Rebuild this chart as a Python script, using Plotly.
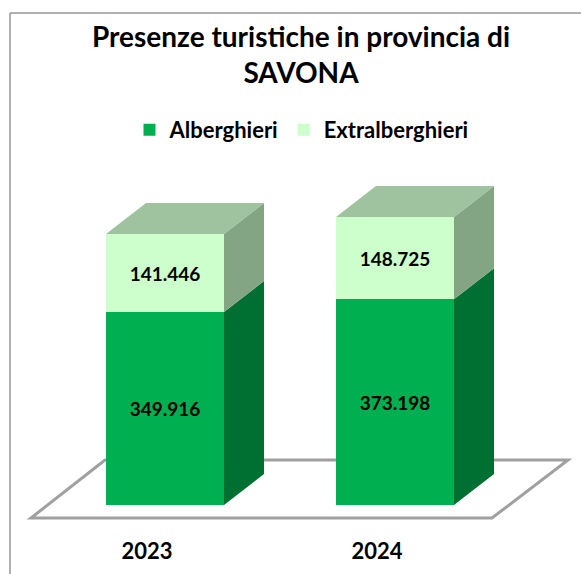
import plotly.graph_objects as go

years = ["2023", "2024"]
alberghieri = [349916, 373198]
extralberghieri = [141446, 148725]
labels_alb = ["349.916", "373.198"]
labels_ext = ["141.446", "148.725"]

W, H = 581, 574
PX_X = 230.0            # pixels per category step
PX_Y = 0.0005516        # pixels per value unit
X0 = 165                # pixel of first category
Y0 = 505                # pixel of value 0
AXIS_PX = 536           # pixel of x axis line
BAR_W = 118 / PX_X
DX = 40 / PX_X          # 3D depth
DY = 31 / PX_Y

xs = list(range(len(years)))


def faces(bottoms, tops):
    sx, sy = [], []
    for x, b, t in zip(xs, bottoms, tops):
        r = x + BAR_W / 2
        sx += [r, r + DX, r + DX, r, r, None]
        sy += [b, b + DY, t + DY, t, b, None]
    return sx, sy


def top_faces(tops):
    sx, sy = [], []
    for x, t in zip(xs, tops):
        l, r = x - BAR_W / 2, x + BAR_W / 2
        sx += [l, r, r + DX, l + DX, l, None]
        sy += [t, t, t + DY, t + DY, t, None]
    return sx, sy


totals = [a + e for a, e in zip(alberghieri, extralberghieri)]
zeros = [0 for _ in xs]
FONT = "Lato"

fig = go.Figure()
fig.add_bar(x=xs, y=alberghieri, name="Alberghieri", width=BAR_W,
            marker=dict(color="#00B050", line=dict(width=0)),
            text=labels_alb, textposition="inside", insidetextanchor="middle",
            textangle=0, textfont=dict(family=FONT, size=19, color="#000000", weight="bold"),
            hoverinfo="skip")
fig.add_bar(x=xs, y=extralberghieri, name="Extralberghieri", width=BAR_W,
            marker=dict(color="#CCFFCC", line=dict(width=0)),
            text=labels_ext, textposition="inside", insidetextanchor="middle",
            textangle=0, textfont=dict(family=FONT, size=19, color="#000000", weight="bold"),
            hoverinfo="skip")

for (sx, sy), col in [
    (faces(zeros, alberghieri), "#006F32"),
    (faces(alberghieri, totals), "#84A584"),
    (top_faces(totals), "#9EC39E"),
]:
    fig.add_scatter(x=sx, y=sy, mode="lines", fill="toself", fillcolor=col,
                    line=dict(width=0, color=col), showlegend=False, hoverinfo="skip")


def px2x(p):
    return (p - X0) / PX_X


floor = "M %f,%f L %f,%f L %f,%f L %f,%f Z" % (
    px2x(31), (Y0 - 518) / PX_Y, px2x(492), (Y0 - 518) / PX_Y,
    px2x(568), (Y0 - 460) / PX_Y, px2x(105), (Y0 - 460) / PX_Y)

fig.update_layout(
    width=W, height=H,
    margin=dict(l=0, r=0, t=0, b=0),
    paper_bgcolor="white", plot_bgcolor="white",
    barmode="stack",
    bargap=0,
    font=dict(family=FONT, color="#000000"),
    title=dict(text="<b>Presenze turistiche in provincia di<br>SAVONA</b>",
               x=301 / W, xanchor="center", xref="paper",
               y=1 - 47 / H, yanchor="top", yref="paper",
               font=dict(family=FONT, size=28, color="#000000")),
    legend=dict(orientation="h", x=301.5 / W, xanchor="center", y=1 - 130 / H, yanchor="middle",
                traceorder="normal", bgcolor="rgba(0,0,0,0)",
                font=dict(family=FONT, size=22, color="#000000", weight="bold")),
    xaxis=dict(domain=[0, 1], range=[px2x(0), px2x(W)], showgrid=False, zeroline=False,
               showline=False, ticks="", tickmode="array",
               tickvals=[x - 18 / PX_X for x in xs], ticktext=years,
               tickfont=dict(family=FONT, size=22, color="#000000", weight="bold"),
               fixedrange=True),
    yaxis=dict(domain=[(H - AXIS_PX) / H, 1], range=[(Y0 - AXIS_PX) / PX_Y, Y0 / PX_Y],
               visible=False, fixedrange=True),
    shapes=[
        dict(type="path", path=floor, xref="x", yref="y", layer="below",
             line=dict(color="#A0A0A0", width=3), fillcolor="white"),
        dict(type="line", xref="paper", yref="paper", x0=10 / W, x1=10 / W, y0=0, y1=1 - 13 / H,
             line=dict(color="#969696", width=1.5)),
        dict(type="line", xref="paper", yref="paper", x0=10 / W, x1=1, y0=1 - 13 / H, y1=1 - 13 / H,
             line=dict(color="#969696", width=1.5)),
    ],
)

fig.write_html("out.html", config={"displayModeBar": False},
               post_script="document.body.style.margin='0';document.documentElement.style.overflow='hidden';")
